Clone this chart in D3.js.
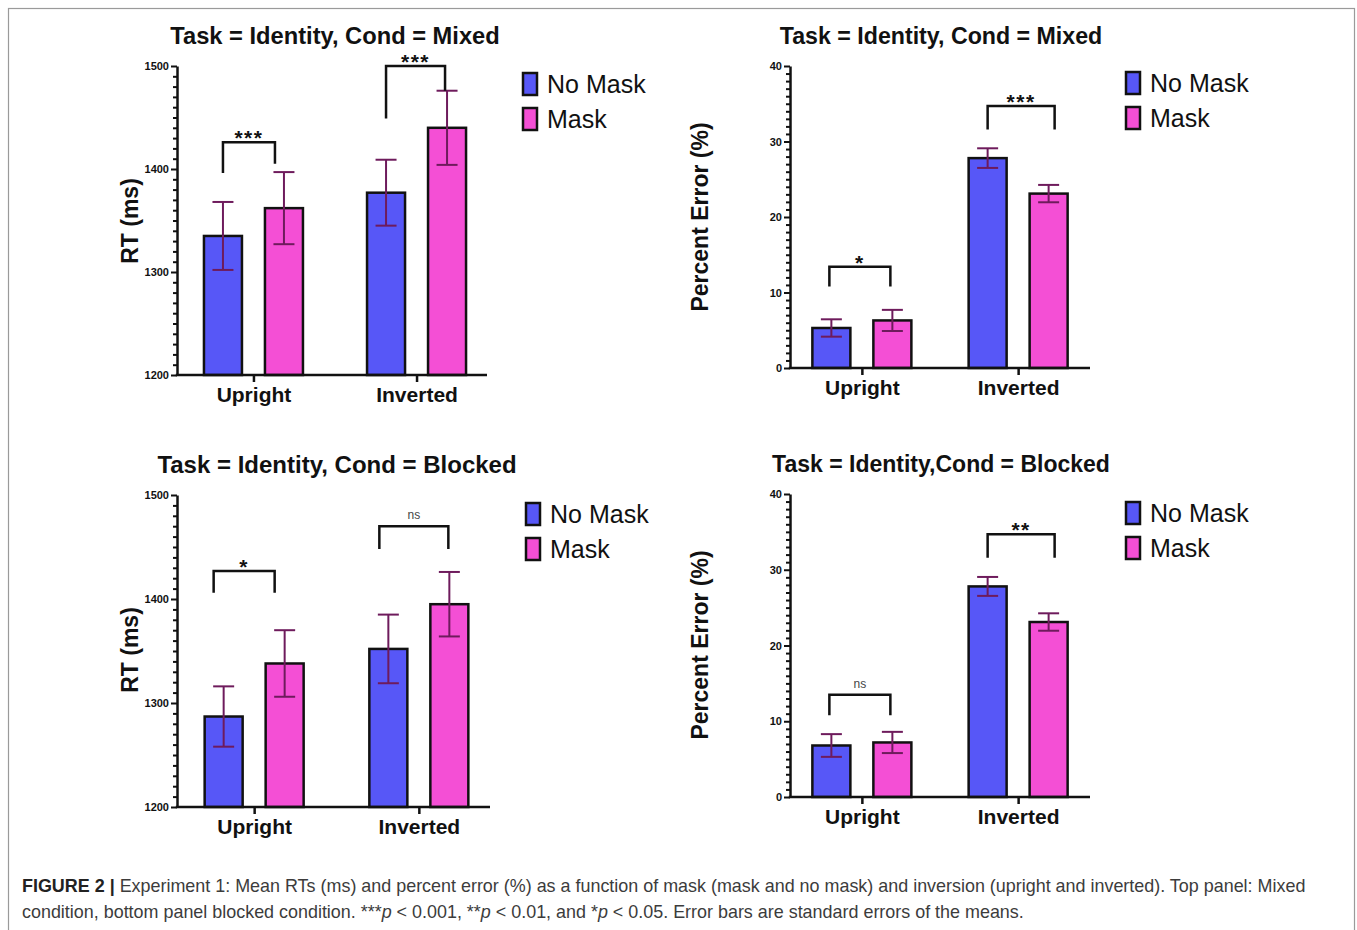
<!DOCTYPE html>
<html>
<head>
<meta charset="utf-8">
<script src="https://cdn.jsdelivr.net/npm/d3@7"></script>
<style>
  html, body { margin: 0; padding: 0; background: #fff; }
  svg { display: block; font-family: "Liberation Sans", Arial, sans-serif; }
</style>
</head>
<body>
<svg id="chart" width="1357" height="930"></svg>
<script>
// ---------------- data ----------------
const categories = ["Upright", "Inverted"];
const seriesNames = ["No Mask", "Mask"];
const seriesColors = ["#5757F7", "#F44FD5"];

// order: [Upright NoMask, Upright Mask, Inverted NoMask, Inverted Mask]
const rtMixedMean = [1335, 1362, 1377, 1440];
const rtMixedSE   = [33, 35, 32, 36];
const errMixedMean = [5.3, 6.3, 27.8, 23.1];
const errMixedSE   = [1.15, 1.4, 1.3, 1.15];
const rtBlockedMean = [1287, 1338, 1352, 1395];
const rtBlockedSE   = [29, 32, 33, 31];
const errBlockedMean = [6.8, 7.2, 27.8, 23.1];
const errBlockedSE   = [1.5, 1.4, 1.25, 1.15];

// significance brackets per category: [label, bracket top value, left leg end, right leg end]
const rtMixedSig = [["***", 1426, 1396, 1405], ["***", 1500, 1449, 1476]];
const errMixedSig = [["*", 13.4, 10.8, 10.8], ["***", 34.7, 31.6, 31.6]];
const rtBlockedSig = [["*", 1427, 1406, 1406], ["ns", 1470, 1448, 1448]];
const errBlockedSig = [["ns", 13.5, 10.8, 10.8], ["**", 34.7, 31.6, 31.6]];

const rtDomain = [1200, 1500];
const rtMajorTicks = [1200, 1300, 1400, 1500];
const errDomain = [0, 40];
const errMajorTicks = [0, 10, 20, 30, 40];

const titles = ["Task = Identity, Cond = Mixed", "Task = Identity, Cond = Mixed",
                "Task = Identity, Cond = Blocked", "Task = Identity,Cond = Blocked"];
const yLabels = ["RT (ms)", "Percent Error (%)", "RT (ms)", "Percent Error (%)"];

// ---------------- layout ----------------
const panels = [
  { mean: rtMixedMean, se: rtMixedSE, sig: rtMixedSig, domain: rtDomain, major: rtMajorTicks, minorStep: 10,
    ax: 177, top: 66, bot: 375, right: 487, xStart: 6, pad: 0.432, tfs: 23.7, tx: 335, ty: 44,
    lx: 523, ly: 73, ylx: 138, yly: 221, bShift: [[0, -9], [0, -2]] },
  { mean: errMixedMean, se: errMixedSE, sig: errMixedSig, domain: errDomain, major: errMajorTicks, minorStep: 1,
    ax: 790, top: 66, bot: 368, right: 1090, xStart: 0, pad: 0.46, tfs: 23.2, tx: 941, ty: 44,
    lx: 1126, ly: 72, ylx: 708, yly: 217, bShift: [[-2, -2], [0, 6]] },
  { mean: rtBlockedMean, se: rtBlockedSE, sig: rtBlockedSig, domain: rtDomain, major: rtMajorTicks, minorStep: 10,
    ax: 177, top: 495, bot: 807, right: 490, xStart: 6, pad: 0.432, tfs: 24, tx: 337, ty: 473,
    lx: 526, ly: 503, ylx: 138, yly: 650, bShift: [[-10, -10], [-9, -1]] },
  { mean: errBlockedMean, se: errBlockedSE, sig: errBlockedSig, domain: errDomain, major: errMajorTicks, minorStep: 1,
    ax: 790, top: 494, bot: 797, right: 1090, xStart: 0, pad: 0.46, tfs: 23, tx: 941, ty: 472,
    lx: 1126, ly: 502, ylx: 708, yly: 645, bShift: [[-2, -2], [0, 6]] }
];

const svg = d3.select("#chart");

// outer frame
svg.append("rect").attr("x", 8.5).attr("y", 8.5).attr("width", 1346).attr("height", 1000)
  .attr("fill", "none").attr("stroke", "#9a9a9a").attr("stroke-width", 1.2);

const errColor = "#6e1b5c";

panels.forEach((p, pi) => {
  const g = svg.append("g");
  const y = d3.scaleLinear().domain(p.domain).range([p.bot, p.top]);
  const x = d3.scalePoint().domain(categories).range([p.ax + p.xStart, p.right]).padding(p.pad);
  const x1 = d3.scaleBand().domain(seriesNames).range([-49.5, 49.5]).paddingInner(0.377);

  // title
  g.append("text").attr("x", p.tx).attr("y", p.ty).attr("text-anchor", "middle")
    .attr("font-weight", "bold").attr("font-size", p.tfs).attr("fill", "#111").text(titles[pi]);

  // y label
  g.append("text").attr("transform", `translate(${p.ylx},${p.yly}) rotate(-90)`)
    .attr("text-anchor", "middle").attr("font-weight", "bold").attr("font-size", 23)
    .attr("fill", "#111").text(yLabels[pi]);

  // bars
  const rows = [];
  categories.forEach((c, ci) => seriesNames.forEach((s, si) => {
    const k = ci * 2 + si;
    rows.push({ c, s, si, m: p.mean[k], e: p.se[k] });
  }));
  const cx = d => x(d.c) + x1(d.s) + x1.bandwidth() / 2;

  g.selectAll("rect.bar").data(rows).join("rect").attr("class", "bar")
    .attr("x", d => x(d.c) + x1(d.s)).attr("width", x1.bandwidth())
    .attr("y", d => y(d.m)).attr("height", d => y(p.domain[0]) - y(d.m))
    .attr("fill", d => seriesColors[d.si]).attr("stroke", "#111").attr("stroke-width", 2.5);

  // error bars
  const eb = g.selectAll("g.err").data(rows).join("g").attr("class", "err")
    .attr("stroke", errColor).attr("stroke-width", 2).attr("fill", "none");
  eb.append("line").attr("x1", cx).attr("x2", cx).attr("y1", d => y(d.m + d.e)).attr("y2", d => y(d.m - d.e));
  eb.append("line").attr("x1", d => cx(d) - 10.5).attr("x2", d => cx(d) + 10.5).attr("y1", d => y(d.m + d.e)).attr("y2", d => y(d.m + d.e));
  eb.append("line").attr("x1", d => cx(d) - 10.5).attr("x2", d => cx(d) + 10.5).attr("y1", d => y(d.m - d.e)).attr("y2", d => y(d.m - d.e));

  // y axis minor ticks
  const minor = d3.range(p.domain[0], p.domain[1] + 1e-9, p.minorStep).filter(v => !p.major.includes(v));
  const minorAxis = g.append("g").attr("transform", `translate(${p.ax},0)`)
    .call(d3.axisLeft(y).tickValues(minor).tickSize(4).tickSizeOuter(0).tickFormat(""));
  minorAxis.selectAll("line").attr("stroke", "#111").attr("stroke-width", 2);
  minorAxis.select(".domain").remove();

  // y axis major
  const ya = g.append("g").attr("transform", `translate(${p.ax},0)`)
    .call(d3.axisLeft(y).tickValues(p.major).tickSize(6).tickSizeOuter(0).tickPadding(2).tickFormat(d3.format("d")));
  ya.select(".domain").attr("stroke", "#111").attr("stroke-width", 2.5);
  ya.selectAll(".tick line").attr("stroke", "#111").attr("stroke-width", 2);
  ya.selectAll(".tick text").attr("font-family", "Liberation Sans, Arial, sans-serif")
    .attr("font-size", 11).attr("font-weight", "bold").attr("fill", "#111");

  // x axis
  const xa = g.append("g").attr("transform", `translate(0,${p.bot})`)
    .call(d3.axisBottom(x).tickSize(7).tickSizeOuter(0).tickPadding(6));
  xa.select(".domain").attr("stroke", "#111").attr("stroke-width", 2.5)
    .attr("d", `M${p.ax - 1.2},0H${p.right}`);
  xa.selectAll(".tick line").attr("stroke", "#111").attr("stroke-width", 2.5);
  xa.selectAll(".tick text").attr("font-family", "Liberation Sans, Arial, sans-serif")
    .attr("font-size", 21).attr("font-weight", "bold").attr("fill", "#111").attr("dy", "0.66em");

  // significance brackets
  categories.forEach((c, ci) => {
    const [lab, topV, lV, rV] = p.sig[ci];
    const xl = cx({ c, s: seriesNames[0] }) + p.bShift[ci][0];
    const xr = cx({ c, s: seriesNames[1] }) + p.bShift[ci][1];
    g.append("path").attr("d", `M${xl},${y(lV)}V${y(topV)}H${xr}V${y(rV)}`)
      .attr("fill", "none").attr("stroke", "#111").attr("stroke-width", 2.5);
    const isNs = lab === "ns";
    g.append("text").attr("x", (xl + xr) / 2).attr("y", y(topV) + (isNs ? -7 : 3))
      .attr("text-anchor", "middle")
      .attr("font-size", isNs ? 12 : 21).attr("font-weight", isNs ? "normal" : "bold")
      .attr("letter-spacing", isNs ? 0 : 1.5)
      .attr("fill", isNs ? "#444" : "#111").text(lab);
  });

  // legend
  seriesNames.forEach((s, si) => {
    const ly = p.ly + si * 35;
    g.append("rect").attr("x", p.lx).attr("y", ly).attr("width", 14).attr("height", 22)
      .attr("fill", seriesColors[si]).attr("stroke", "#111").attr("stroke-width", 2.5);
    g.append("text").attr("x", p.lx + 24).attr("y", ly + 20)
      .attr("font-size", 25).attr("fill", "#111").text(s);
  });
});

// caption
const cap = svg.append("g").attr("fill", "#3c3c3c");
const line1 = cap.append("text").attr("x", 22).attr("y", 892).attr("font-size", 16);
line1.append("tspan").attr("font-weight", "bold").attr("fill", "#222").text("FIGURE 2 | ");
line1.append("tspan").text("Experiment 1: Mean RTs (ms) and percent error (%) as a function of mask (mask and no mask) and inversion (upright and inverted). Top panel: Mixed");
const line2 = cap.append("text").attr("x", 22).attr("y", 918).attr("font-size", 16);
const parts = [["condition, bottom panel blocked condition. ***", false], ["p", true], [" < 0.001, **", false],
  ["p", true], [" < 0.01, and *", false], ["p", true], [" < 0.05. Error bars are standard errors of the means.", false]];
parts.forEach(([t, it]) => line2.append("tspan").attr("font-style", it ? "italic" : "normal").text(t));
const w1 = line1.node().getComputedTextLength();
const fs = 16 * 1284 / w1;
line1.attr("font-size", fs);
line2.attr("font-size", fs);
</script>
</body>
</html>
